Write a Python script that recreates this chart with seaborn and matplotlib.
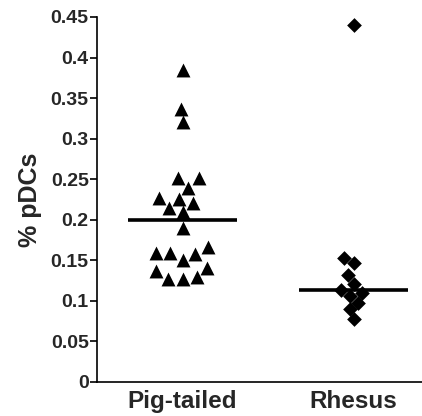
import numpy as np
import pandas as pd
import matplotlib
matplotlib.use("Agg")
import matplotlib.pyplot as plt
import seaborn as sns

categories = ["Pig-tailed", "Rhesus"]
pig_tailed = [0.385, 0.337, 0.320, 0.251, 0.251, 0.239, 0.227, 0.226, 0.221,
              0.214, 0.209, 0.190, 0.158, 0.159, 0.166, 0.159, 0.150, 0.141,
              0.137, 0.129, 0.127, 0.127]
rhesus = [0.440, 0.153, 0.147, 0.132, 0.121, 0.114, 0.110, 0.106, 0.098,
          0.090, 0.078]
y_ticks = [0, 0.05, 0.1, 0.15, 0.2, 0.25, 0.3, 0.35, 0.4, 0.45]
y_ticklabels = ["0", "0.05", "0.1", "0.15", "0.2", "0.25", "0.3", "0.35", "0.4", "0.45"]
y_label = "% pDCs"

df = pd.DataFrame({
    "group": [categories[0]] * len(pig_tailed) + [categories[1]] * len(rhesus),
    "value": pig_tailed + rhesus,
})

sns.set_style("ticks")
plt.rcParams["font.family"] = ["Liberation Sans", "DejaVu Sans"]
plt.rcParams["font.weight"] = "bold"

fig = plt.figure(figsize=(4.22, 4.16), dpi=100)
ax = fig.add_axes([97 / 422, 34 / 416, 325 / 422, 365 / 416])

sns.boxplot(data=df, x="group", y="value", order=categories, ax=ax,
            showbox=False, showcaps=False, showfliers=False, whis=0,
            width=0.64, whiskerprops={"visible": False},
            medianprops={"color": "black", "linewidth": 2.6})

sns.swarmplot(data=df[df.group == categories[0]], x="group", y="value",
              order=categories, ax=ax, marker="^", color="black", size=10,
              linewidth=0)
sns.swarmplot(data=df[df.group == categories[1]], x="group", y="value",
              order=categories, ax=ax, marker="D", color="black", size=7.5,
              linewidth=0)

ax.set_xlim(-0.5, 1.4)
ax.set_ylim(0, 0.45)
ax.set_yticks(y_ticks)
ax.set_yticklabels(y_ticklabels, fontsize=14, fontweight="bold")
ax.set_xticks(range(len(categories)))
ax.set_xticklabels(categories, fontsize=17.5, fontweight="bold")
ax.tick_params(axis="x", length=0, pad=6)
ax.tick_params(axis="y", length=5, width=1.2, pad=1, color="black")
ax.set_xlabel("")
ax.set_ylabel(y_label, fontsize=18, fontweight="bold", labelpad=6)
for s in ["top", "right"]:
    ax.spines[s].set_visible(False)
for s in ["left", "bottom"]:
    ax.spines[s].set_color("black")
    ax.spines[s].set_linewidth(1.2)

fig.savefig("out.png", dpi=100)
